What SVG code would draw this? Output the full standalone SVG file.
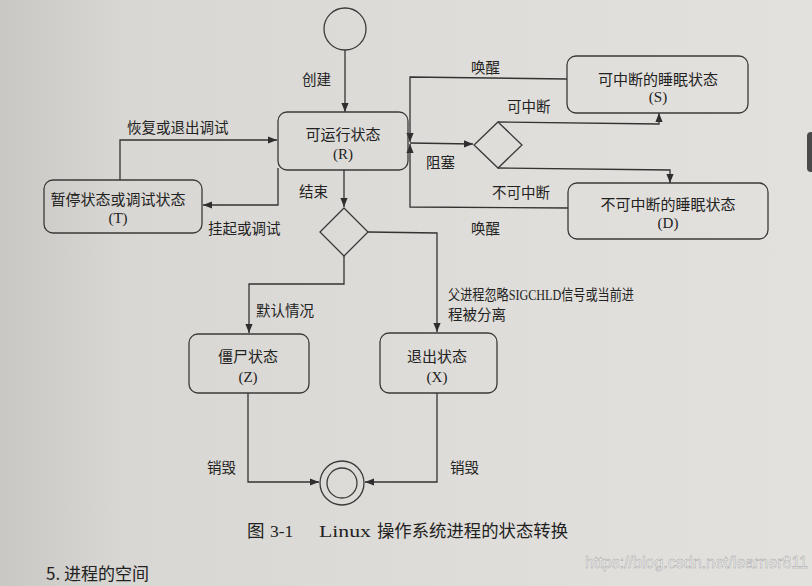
<svg xmlns="http://www.w3.org/2000/svg" width="812" height="586" viewBox="0 0 812 586">
<defs>
<linearGradient id="paper" x1="0" y1="0" x2="1" y2="0">
<stop offset="0" stop-color="#c9c7c4"/>
<stop offset="0.15" stop-color="#d9d7d3"/>
<stop offset="0.6" stop-color="#dfddd9"/>
<stop offset="1" stop-color="#e3e1dd"/>
</linearGradient>
<marker id="arr" viewBox="0 0 10 10" refX="10" refY="5" markerWidth="9" markerHeight="9" markerUnits="userSpaceOnUse" orient="auto">
<path d="M0,1 L10,5 L0,9 Z" fill="#2e2e2e"/>
</marker>
<style>
.box{fill:none;stroke:#3a3a3a;stroke-width:1.3}
.ln{fill:none;stroke:#333;stroke-width:1.3}
.t{font-family:"Liberation Serif","Noto Sans CJK SC",serif;font-size:15px;fill:#222;text-anchor:middle}
.l{font-family:"Liberation Serif","Noto Sans CJK SC",serif;font-size:14.5px;fill:#222}
.cap{font-family:"Liberation Serif","Noto Sans CJK SC",serif;font-size:17.5px;fill:#222}
</style>
</defs>
<rect x="0" y="0" width="812" height="586" fill="url(#paper)"/>
<rect x="807" y="132" width="12" height="40" rx="4" fill="#4a4a4a"/>

<g id="connectors">
<line class="ln" x1="345" y1="50" x2="345" y2="112" marker-end="url(#arr)"/>
<polyline class="ln" points="120,180 120,140 277,140" marker-end="url(#arr)"/>
<polyline class="ln" points="278,168 278,205 203,205" marker-end="url(#arr)"/>
<line class="ln" x1="344" y1="170" x2="344" y2="207" marker-end="url(#arr)"/>
<polyline class="ln" points="567,79 410,77 410,142" marker-end="url(#arr)"/>
<polyline class="ln" points="568,208 410,207 410,144" marker-end="url(#arr)"/>
<line class="ln" x1="410" y1="143" x2="473" y2="144" marker-end="url(#arr)"/>
<polyline class="ln" points="498,122 659,124 659,113" marker-end="url(#arr)"/>
<polyline class="ln" points="498,168 670,170 670,183" marker-end="url(#arr)"/>
<polyline class="ln" points="368,232 437,233 437,332" marker-end="url(#arr)"/>
<polyline class="ln" points="344,256 344,284 249,284 249,333" marker-end="url(#arr)"/>
<polyline class="ln" points="248,393 248,482 319,482" marker-end="url(#arr)"/>
<polyline class="ln" points="437,393 437,482 365,482" marker-end="url(#arr)"/>
</g>

<g id="labels">
<text class="l" x="302" y="85">创建</text>
<text class="l" x="127" y="133">恢复或退出调试</text>
<text class="l" x="208" y="234">挂起或调试</text>
<text class="l" x="299" y="197">结束</text>
<text class="l" x="471" y="73">唤醒</text>
<text class="l" x="507" y="112">可中断</text>
<text class="l" x="426" y="168">阻塞</text>
<text class="l" x="492" y="198">不可中断</text>
<text class="l" x="471" y="234">唤醒</text>
<text class="l" x="256" y="316">默认情况</text>
<text class="l" x="448" y="300" textLength="186" lengthAdjust="spacingAndGlyphs">父进程忽略SIGCHLD信号或当前进</text>
<text class="l" x="448" y="320">程被分离</text>
<text class="l" x="207" y="473">销毁</text>
<text class="l" x="450" y="473">销毁</text>
</g>

<g id="start"><circle cx="345" cy="29" r="21" class="box"/></g>

<g id="R">
<rect x="278" y="112" width="130" height="58" rx="9" class="box"/>
<text class="t" x="343" y="140">可运行状态</text>
<text class="t" x="343" y="159">(R)</text>
</g>

<g id="T">
<rect x="44" y="180" width="158" height="53" rx="9" class="box"/>
<text class="t" x="118" y="205">暂停状态或调试状态</text>
<text class="t" x="118" y="223">(T)</text>
</g>

<g id="D1"><polygon class="box" points="344,208 368,232 344,256 320,232"/></g>

<g id="D2"><polygon class="box" points="498,122 522,145 498,168 474,145"/></g>

<g id="S">
<rect x="567" y="56" width="181" height="57" rx="9" class="box"/>
<text class="t" x="658" y="85">可中断的睡眠状态</text>
<text class="t" x="658" y="102">(S)</text>
</g>

<g id="D">
<rect x="568" y="183" width="200" height="56" rx="9" class="box"/>
<text class="t" x="668" y="210">不可中断的睡眠状态</text>
<text class="t" x="668" y="228">(D)</text>
</g>

<g id="Z">
<rect x="189" y="334" width="120" height="59" rx="9" class="box"/>
<text class="t" x="248" y="362">僵尸状态</text>
<text class="t" x="248" y="382">(Z)</text>
</g>

<g id="X">
<rect x="380" y="333" width="117" height="60" rx="9" class="box"/>
<text class="t" x="437" y="362">退出状态</text>
<text class="t" x="437" y="382">(X)</text>
</g>

<g id="end">
<circle cx="342" cy="483" r="22" class="box"/>
<circle cx="342" cy="483" r="15" class="box"/>
</g>

<g id="caption">
<text class="cap" y="537"><tspan x="247">图</tspan><tspan x="270">3-1</tspan><tspan x="319" textLength="52" lengthAdjust="spacingAndGlyphs">Linux</tspan><tspan x="377" textLength="191" lengthAdjust="spacingAndGlyphs">操作系统进程的状态转换</tspan></text>
<text x="46" y="580" style="font-family:'Noto Sans CJK SC',sans-serif;font-size:17px;fill:#222">5. 进程的空间</text>
<text x="808" y="568" text-anchor="end" style="font-family:'Liberation Sans',sans-serif;font-size:16px;fill:#f4f4f4;stroke:#9a9a9a;stroke-width:0.4">https://blog.csdn.net/learner811</text>
</g>
</svg>
